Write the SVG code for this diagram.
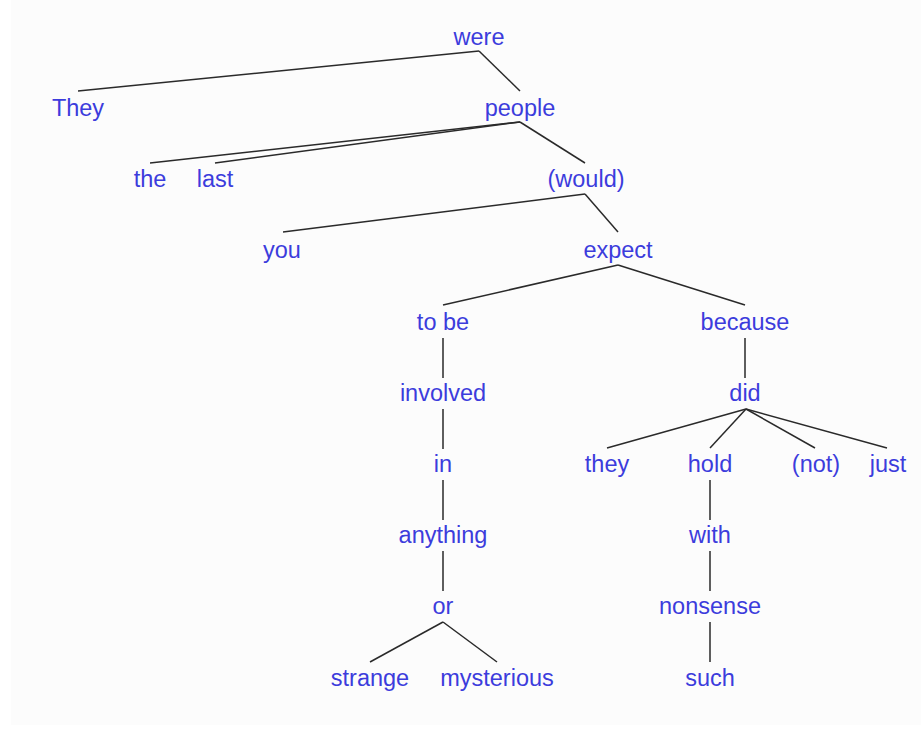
<svg xmlns="http://www.w3.org/2000/svg" width="921" height="729" viewBox="0 0 921 729">
<style>
text{font-family:"Liberation Sans",Arial,sans-serif;font-size:23.5px;fill:#3c3cdc;text-anchor:middle}
#edges line{stroke:#2a2a2a;stroke-width:1.5;fill:none}
</style>
<rect x="0" y="0" width="921" height="729" fill="#ffffff"/>
<rect x="11" y="0" width="910" height="725" fill="#fcfcfc"/>
<g id="edges">
<line x1="479" y1="51" x2="78" y2="91"/>
<line x1="479" y1="51" x2="520" y2="91"/>
<line x1="520" y1="122" x2="150" y2="163"/>
<line x1="520" y1="122" x2="215" y2="163"/>
<line x1="520" y1="122" x2="585" y2="163"/>
<line x1="585" y1="194" x2="283" y2="232"/>
<line x1="585" y1="194" x2="618" y2="232"/>
<line x1="618" y1="265" x2="443" y2="305"/>
<line x1="618" y1="265" x2="745" y2="305"/>
<line x1="443" y1="338" x2="443" y2="378"/>
<line x1="443" y1="409" x2="443" y2="449"/>
<line x1="443" y1="480" x2="443" y2="520"/>
<line x1="443" y1="551" x2="443" y2="591"/>
<line x1="443" y1="622" x2="370" y2="662"/>
<line x1="443" y1="622" x2="497" y2="662"/>
<line x1="745" y1="338" x2="745" y2="378"/>
<line x1="746" y1="409" x2="607" y2="448"/>
<line x1="746" y1="409" x2="710" y2="448"/>
<line x1="746" y1="409" x2="815" y2="448"/>
<line x1="746" y1="409" x2="887" y2="448"/>
<line x1="710" y1="480" x2="710" y2="520"/>
<line x1="710" y1="551" x2="710" y2="591"/>
<line x1="710" y1="622" x2="710" y2="662"/>
</g>
<g id="n-were"><text x="479" y="45">were</text></g>
<g id="n-They"><text x="78" y="116">They</text></g>
<g id="n-people"><text x="520" y="116">people</text></g>
<g id="n-the"><text x="150" y="187">the</text></g>
<g id="n-last"><text x="215" y="187">last</text></g>
<g id="n-would"><text x="586" y="187">(would)</text></g>
<g id="n-you"><text x="282" y="258">you</text></g>
<g id="n-expect"><text x="618" y="258">expect</text></g>
<g id="n-tobe"><text x="443" y="330">to be</text></g>
<g id="n-because"><text x="745" y="330">because</text></g>
<g id="n-involved"><text x="443" y="401">involved</text></g>
<g id="n-did"><text x="745" y="401">did</text></g>
<g id="n-in"><text x="443" y="472">in</text></g>
<g id="n-they"><text x="607" y="472">they</text></g>
<g id="n-hold"><text x="710" y="472">hold</text></g>
<g id="n-not"><text x="816" y="472">(not)</text></g>
<g id="n-just"><text x="888" y="472">just</text></g>
<g id="n-anything"><text x="443" y="543">anything</text></g>
<g id="n-with"><text x="710" y="543">with</text></g>
<g id="n-or"><text x="443" y="614">or</text></g>
<g id="n-nonsense"><text x="710" y="614">nonsense</text></g>
<g id="n-strange"><text x="370" y="686">strange</text></g>
<g id="n-mysterious"><text x="497" y="686">mysterious</text></g>
<g id="n-such"><text x="710" y="686">such</text></g>
</svg>
